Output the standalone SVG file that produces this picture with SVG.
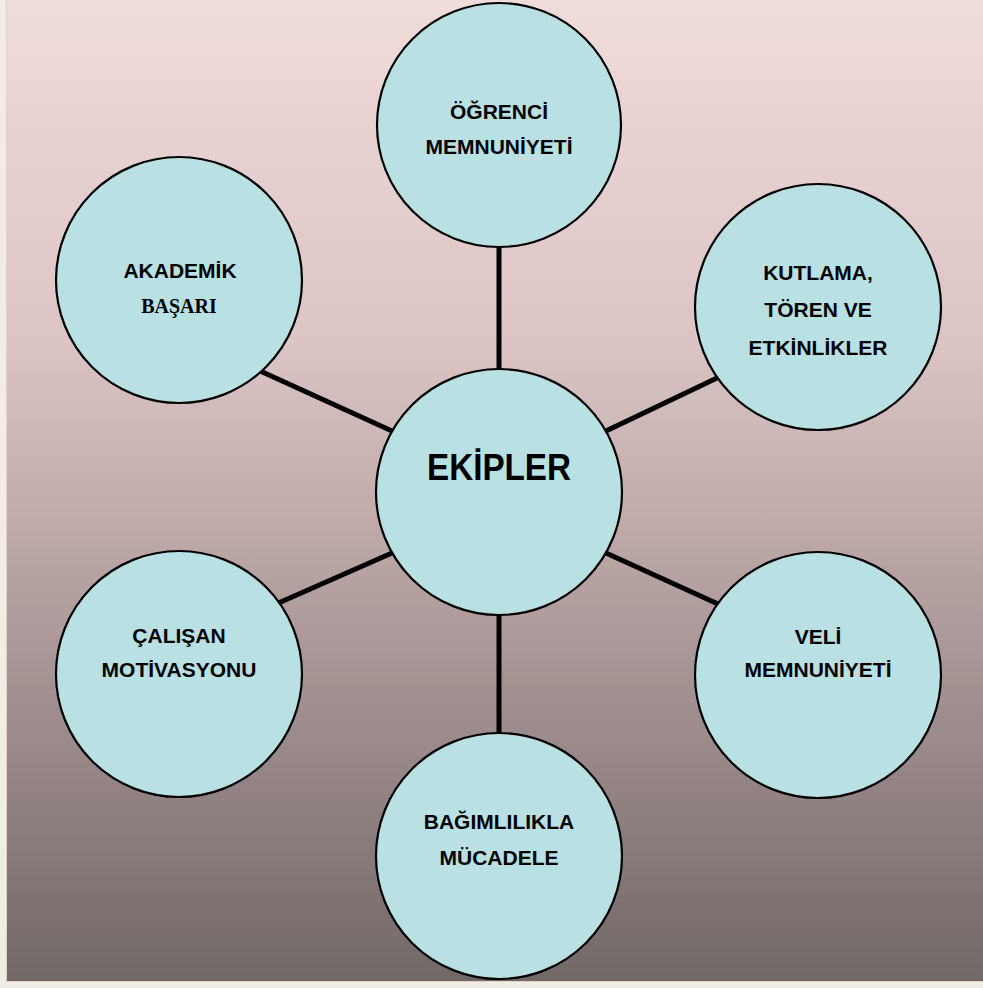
<svg xmlns="http://www.w3.org/2000/svg" width="983" height="988" viewBox="0 0 983 988">
<defs>
<linearGradient id="bg" x1="0" y1="0" x2="0" y2="1">
<stop offset="0" stop-color="#f0dcda"/>
<stop offset="0.35" stop-color="#dcc4c4"/>
<stop offset="0.6" stop-color="#b5a0a0"/>
<stop offset="1" stop-color="#716866"/>
</linearGradient>
<style>
.node circle{fill:#b9e0e3;stroke:#000;stroke-width:2.2}
.lbl{font-family:"Liberation Sans",Arial,sans-serif;font-weight:bold;font-size:21px;fill:#000;text-anchor:middle}
.ser{font-family:"Liberation Serif","Times New Roman",serif;font-weight:bold;font-size:20px;fill:#000;text-anchor:middle}
.big{font-family:"Liberation Sans",Arial,sans-serif;font-weight:bold;font-size:37px;fill:#000;text-anchor:middle}
#connectors line{stroke:#000;stroke-width:5}
</style>
</defs>
<rect x="0" y="0" width="983" height="988" fill="#f0ede4"/>
<rect x="6.5" y="-1" width="980" height="982.5" fill="url(#bg)" stroke="#e9cccc" stroke-width="1"/>
<g id="connectors">
<line x1="499" y1="247" x2="499" y2="369"/>
<line x1="499" y1="615" x2="499" y2="743"/>
<line x1="258" y1="370" x2="392" y2="431"/>
<line x1="740" y1="367" x2="606" y2="431"/>
<line x1="392" y1="553" x2="258" y2="612"/>
<line x1="606" y1="553" x2="740" y2="614"/>
</g>
<g id="ekipler" class="node">
<circle cx="499" cy="492" r="123"/>
<text class="big" x="499" y="480" textLength="144" lengthAdjust="spacingAndGlyphs">EKİPLER</text>
</g>
<g id="ogrenci" class="node">
<circle cx="499" cy="125" r="122"/>
<text class="lbl" x="499" y="119">ÖĞRENCİ</text>
<text class="lbl" x="499" y="154">MEMNUNİYETİ</text>
</g>
<g id="akademik" class="node">
<circle cx="179" cy="280" r="123"/>
<text class="lbl" x="180" y="278">AKADEMİK</text>
<text class="ser" x="179" y="313">BAŞARI</text>
</g>
<g id="kutlama" class="node">
<circle cx="818" cy="307" r="123"/>
<text class="lbl" x="818" y="280">KUTLAMA,</text>
<text class="lbl" x="818" y="317">TÖREN VE</text>
<text class="lbl" x="818" y="355">ETKİNLİKLER</text>
</g>
<g id="calisan" class="node">
<circle cx="179" cy="674" r="123"/>
<text class="lbl" x="179" y="643">ÇALIŞAN</text>
<text class="lbl" x="179" y="677">MOTİVASYONU</text>
</g>
<g id="veli" class="node">
<circle cx="818" cy="675" r="123"/>
<text class="lbl" x="818" y="644">VELİ</text>
<text class="lbl" x="818" y="677">MEMNUNİYETİ</text>
</g>
<g id="bagimlilik" class="node">
<circle cx="499" cy="856" r="123"/>
<text class="lbl" x="499" y="829">BAĞIMLILIKLA</text>
<text class="lbl" x="499" y="865">MÜCADELE</text>
</g>
</svg>
